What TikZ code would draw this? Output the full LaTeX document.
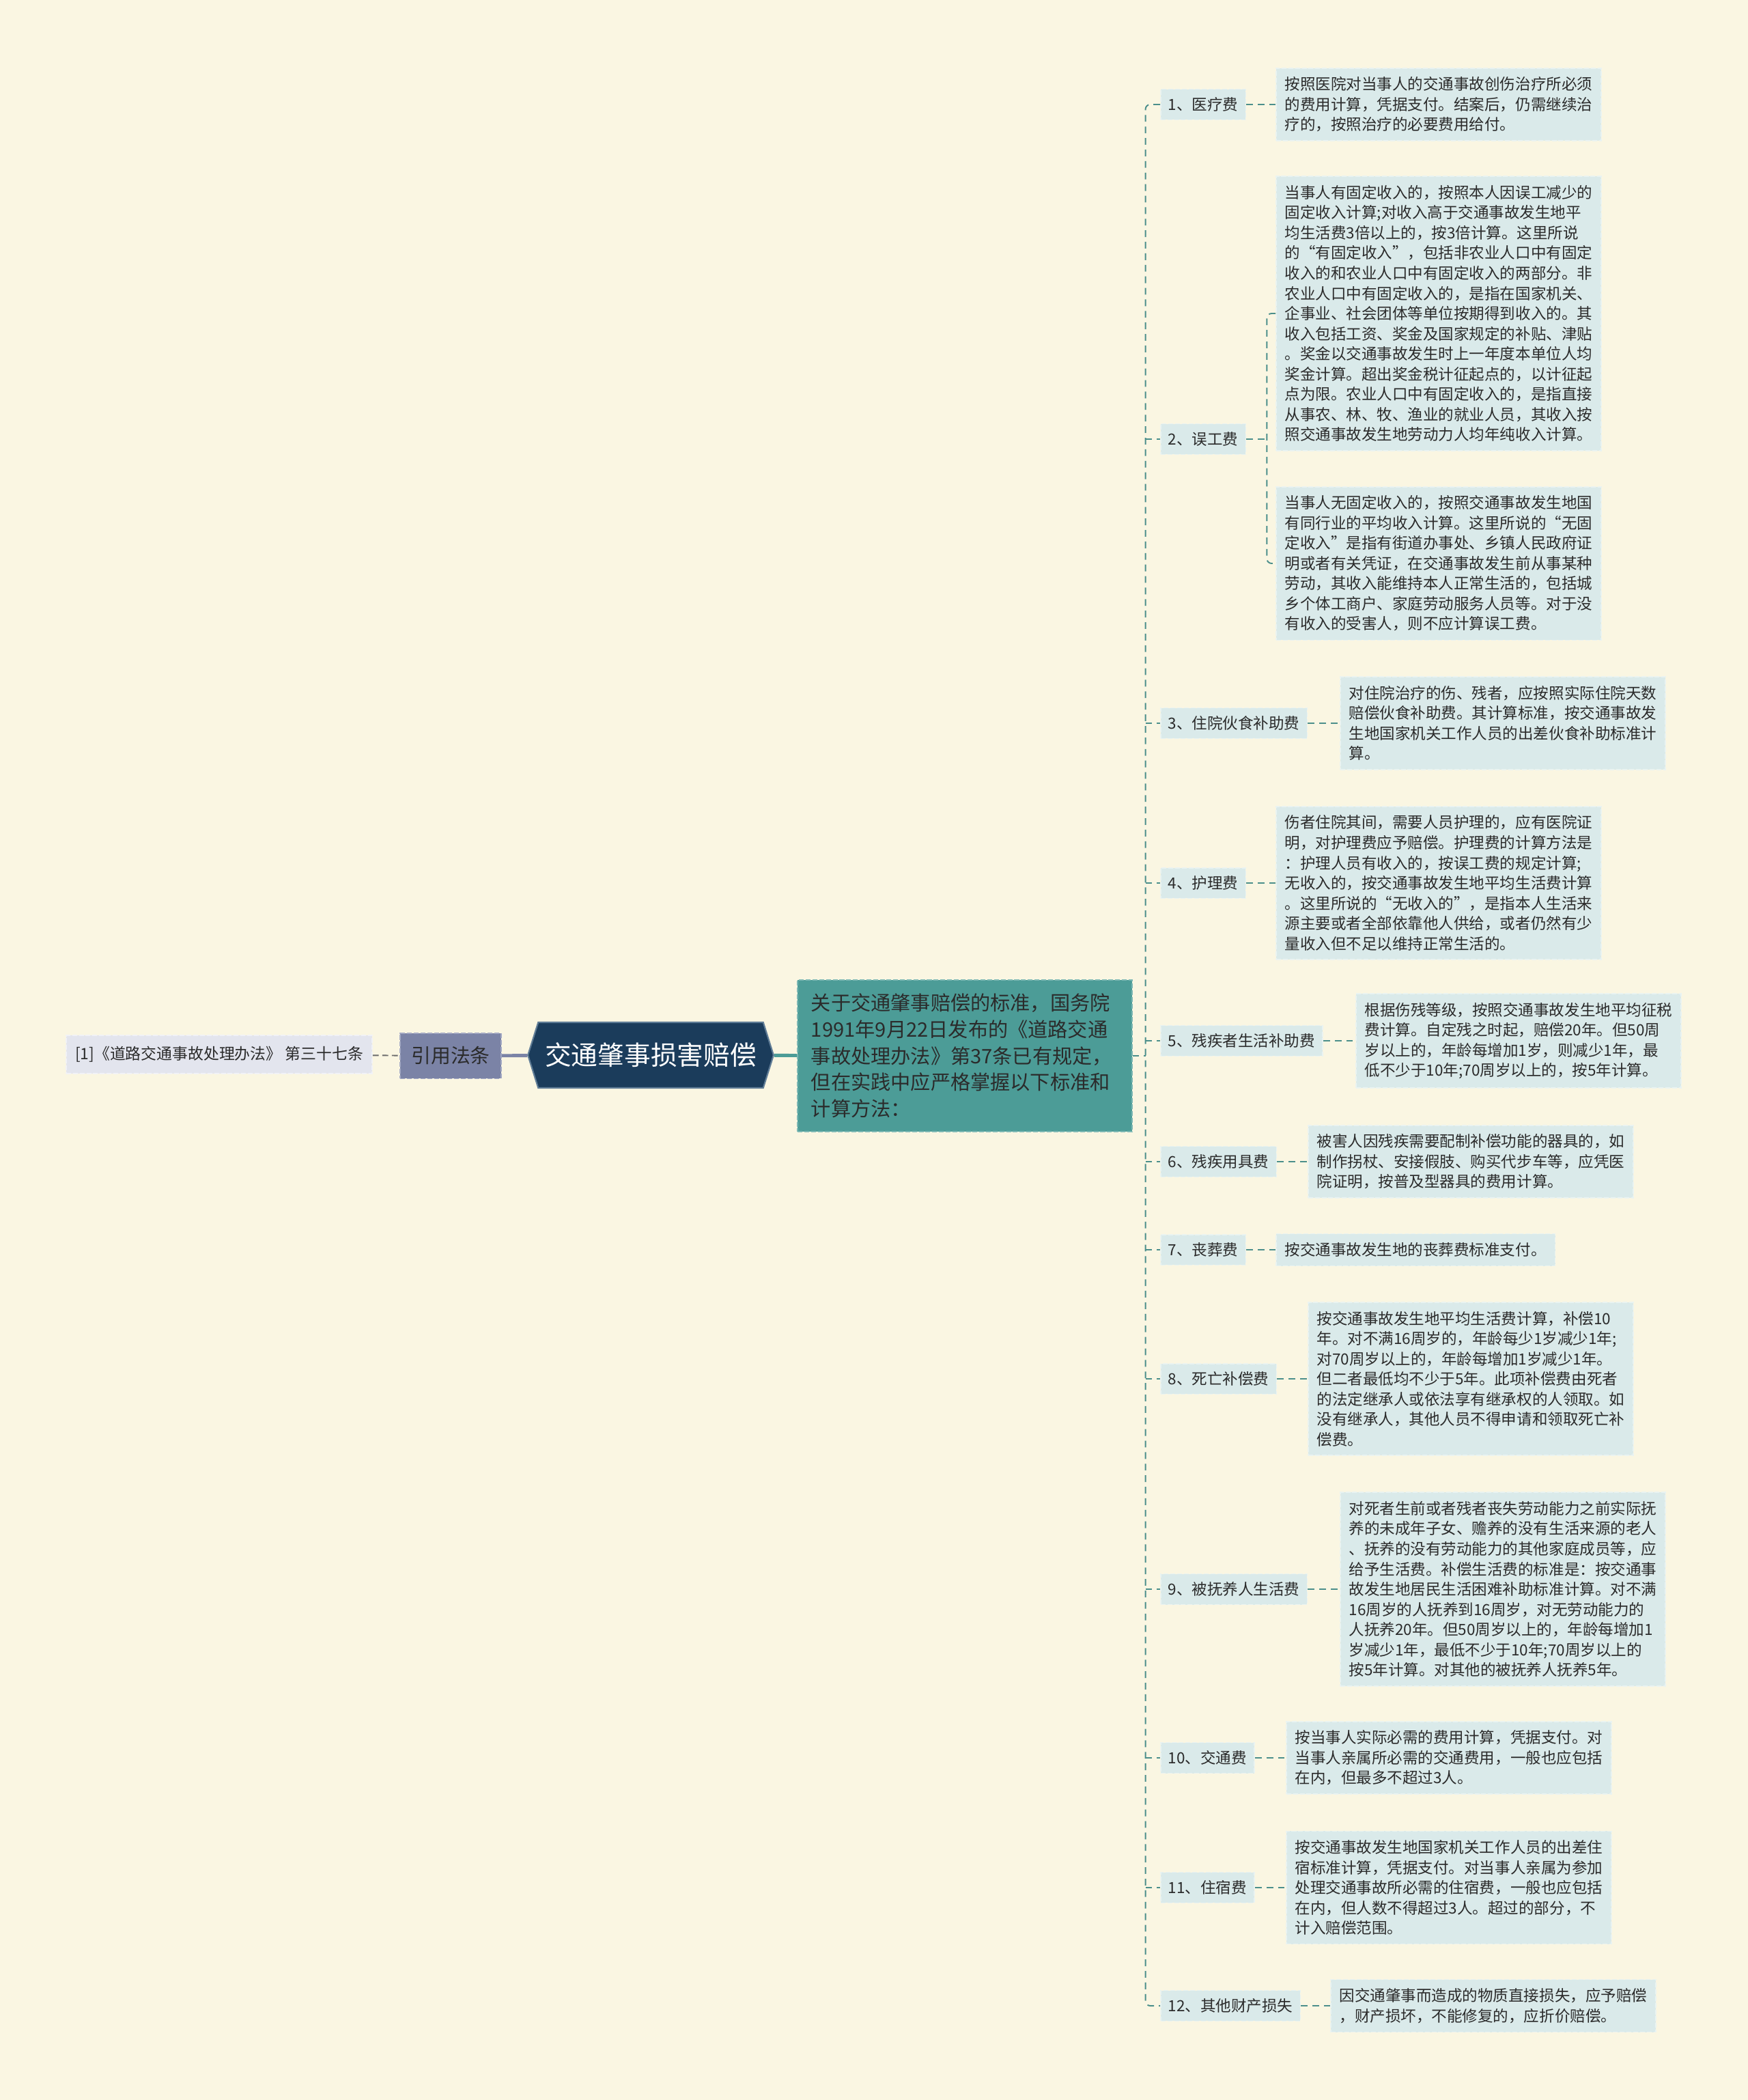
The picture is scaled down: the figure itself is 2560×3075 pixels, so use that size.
\documentclass[tikz,border=0pt]{standalone}
\usepackage{fontspec}
\newfontfamily\cjk{Noto Sans CJK SC}
\usepackage{tikz}
\usetikzlibrary{positioning, calc, shapes.symbols}

\definecolor{bgcream}{HTML}{FAF6E2}
\definecolor{leafbg}{HTML}{DAEAEA}
\definecolor{leafedge}{HTML}{EAF3F1}
\definecolor{linkteal}{HTML}{4B8F8B}
\definecolor{mainteal}{HTML}{4C9C97}
\definecolor{mainedge}{HTML}{7DB8B4}
\definecolor{rootnavy}{HTML}{1B3C5B}
\definecolor{rootedge}{HTML}{5F7C96}
\definecolor{citeslate}{HTML}{7B83A6}
\definecolor{citeedge}{HTML}{A4AAC4}
\definecolor{refbg}{HTML}{E3E5EE}
\definecolor{refedge}{HTML}{F1F2F6}
\definecolor{inkdark}{HTML}{2B2B2B}

\tikzset{
  leaf/.style={draw=leafedge, dash pattern=on 2pt off 0.8pt, line width=0.5pt,
    fill=leafbg, align=left, anchor=west, text=inkdark,
    inner xsep=0.13cm, inner ysep=0.13cm,
    font=\cjk\fontsize{6.4pt}{8.4pt}\selectfont},
  item/.style={leaf, inner xsep=0.11cm, inner ysep=0.12cm},
  conn/.style={draw=linkteal, line width=0.55pt, dash pattern=on 2.8pt off 2pt,
    rounded corners=2pt},
  refleaf/.style={leaf, fill=refbg, draw=refedge, inner xsep=0.13cm, inner ysep=0.16cm,
    anchor=center, font=\cjk\fontsize{6.5pt}{8pt}\selectfont},
  citebox/.style={fill=citeslate, draw=citeedge, dash pattern=on 2pt off 0.8pt,
    line width=0.5pt, text=inkdark, inner xsep=0.16cm, inner ysep=0.2cm,
    font=\cjk\fontsize{8.2pt}{10pt}\selectfont},
  rootnode/.style={signal, signal to=west and east, signal pointer angle=145,
    fill=rootnavy, draw=rootedge, line width=0.6pt, text=white,
    minimum width=3.53cm, minimum height=0.96cm, inner xsep=0.1cm,
    font=\cjk\fontsize{11pt}{13pt}\selectfont},
  mainbox/.style={fill=mainteal, draw=mainedge, dash pattern=on 2pt off 0.8pt,
    line width=0.5pt, text=inkdark, align=left, text width=4.5cm,
    inner xsep=0.195cm, inner ysep=0.2cm,
    font=\cjk\fontsize{8.3pt}{11pt}\selectfont},
}

\begin{document}
\begin{tikzpicture}[x=0.01cm, y=-0.01cm]

  % page background and frame
  \fill[bgcream] (0,0) rectangle (2560,3075);
  \useasboundingbox (0,0) rectangle (2560,3075);

  % left side: root, citation and summary
  \node[rootnode] (root) at (953,1545) {交通肇事损害赔偿};
  \node[citebox] (cite) at (660,1546) {引用法条};
  \node[refleaf] (ref) at (321,1544) {[1]《道路交通事故处理办法》 第三十七条};
  \node[mainbox] (main) at (1413,1546) {关于交通肇事赔偿的标准，国务院\\1991年9月22日发布的《道路交通\\事故处理办法》第37条已有规定，\\但在实践中应严格掌握以下标准和\\计算方法：};

  \draw[draw=inkdark!70, line width=0.55pt, dash pattern=on 2.5pt off 1.5pt] (ref) -- (cite);
  \draw[draw=citeslate, line width=1.4pt] (cite) -- (root);
  \draw[draw=mainteal, line width=1.4pt] (root) -- (main);

  % the twelve cost items
  \foreach \n/\y/\t in {1/153/1、医疗费, 2/643/2、误工费, 3/1059/3、住院伙食补助费,
      4/1293/4、护理费, 5/1524/5、残疾者生活补助费, 6/1701/6、残疾用具费,
      7/1830/7、丧葬费, 8/2019/8、死亡补偿费, 9/2327/9、被抚养人生活费,
      10/2574/10、交通费, 11/2764/11、住宿费, 12/2937/12、其他财产损失}
    \node[item] (item\n) at (1699,\y) {\t};

  % explanations
  \node[leaf] (leaf1) at (1868,153) {按照医院对当事人的交通事故创伤治疗所必须\\的费用计算，凭据支付。结案后，仍需继续治\\疗的，按照治疗的必要费用给付。};
  \node[leaf] (leaf2a) at (1868,459) {当事人有固定收入的，按照本人因误工减少的\\固定收入计算;对收入高于交通事故发生地平\\均生活费3倍以上的，按3倍计算。这里所说\\的“有固定收入”，包括非农业人口中有固定\\收入的和农业人口中有固定收入的两部分。非\\农业人口中有固定收入的，是指在国家机关、\\企事业、社会团体等单位按期得到收入的。其\\收入包括工资、奖金及国家规定的补贴、津贴\\。奖金以交通事故发生时上一年度本单位人均\\奖金计算。超出奖金税计征起点的，以计征起\\点为限。农业人口中有固定收入的，是指直接\\从事农、林、牧、渔业的就业人员，其收入按\\照交通事故发生地劳动力人均年纯收入计算。};
  \node[leaf] (leaf2b) at (1868,825) {当事人无固定收入的，按照交通事故发生地国\\有同行业的平均收入计算。这里所说的“无固\\定收入”是指有街道办事处、乡镇人民政府证\\明或者有关凭证，在交通事故发生前从事某种\\劳动，其收入能维持本人正常生活的，包括城\\乡个体工商户、家庭劳动服务人员等。对于没\\有收入的受害人，则不应计算误工费。};
  \node[leaf] (leaf3) at (1962,1059) {对住院治疗的伤、残者，应按照实际住院天数\\赔偿伙食补助费。其计算标准，按交通事故发\\生地国家机关工作人员的出差伙食补助标准计\\算。};
  \node[leaf] (leaf4) at (1868,1293) {伤者住院其间，需要人员护理的，应有医院证\\明，对护理费应予赔偿。护理费的计算方法是\\：护理人员有收入的，按误工费的规定计算;\\无收入的，按交通事故发生地平均生活费计算\\。这里所说的“无收入的”，是指本人生活来\\源主要或者全部依靠他人供给，或者仍然有少\\量收入但不足以维持正常生活的。};
  \node[leaf] (leaf5) at (1985,1524) {根据伤残等级，按照交通事故发生地平均征税\\费计算。自定残之时起，赔偿20年。但50周\\岁以上的，年龄每增加1岁，则减少1年，最\\低不少于10年;70周岁以上的，按5年计算。};
  \node[leaf] (leaf6) at (1915,1701) {被害人因残疾需要配制补偿功能的器具的，如\\制作拐杖、安接假肢、购买代步车等，应凭医\\院证明，按普及型器具的费用计算。};
  \node[leaf] (leaf7) at (1868,1830) {按交通事故发生地的丧葬费标准支付。};
  \node[leaf] (leaf8) at (1915,2019) {按交通事故发生地平均生活费计算，补偿10\\年。对不满16周岁的，年龄每少1岁减少1年;\\对70周岁以上的，年龄每增加1岁减少1年。\\但二者最低均不少于5年。此项补偿费由死者\\的法定继承人或依法享有继承权的人领取。如\\没有继承人，其他人员不得申请和领取死亡补\\偿费。};
  \node[leaf] (leaf9) at (1962,2327) {对死者生前或者残者丧失劳动能力之前实际抚\\养的未成年子女、赡养的没有生活来源的老人\\、抚养的没有劳动能力的其他家庭成员等，应\\给予生活费。补偿生活费的标准是：按交通事\\故发生地居民生活困难补助标准计算。对不满\\16周岁的人抚养到16周岁，对无劳动能力的\\人抚养20年。但50周岁以上的，年龄每增加1\\岁减少1年，最低不少于10年;70周岁以上的\\按5年计算。对其他的被抚养人抚养5年。};
  \node[leaf] (leaf10) at (1883,2574) {按当事人实际必需的费用计算，凭据支付。对\\当事人亲属所必需的交通费用，一般也应包括\\在内，但最多不超过3人。};
  \node[leaf] (leaf11) at (1883,2764) {按交通事故发生地国家机关工作人员的出差住\\宿标准计算，凭据支付。对当事人亲属为参加\\处理交通事故所必需的住宿费，一般也应包括\\在内，但人数不得超过3人。超过的部分，不\\计入赔偿范围。};
  \node[leaf] (leaf12) at (1948,2937) {因交通肇事而造成的物质直接损失，应予赔偿\\，财产损坏，不能修复的，应折价赔偿。};

  % spine from the summary box to the items
  \coordinate (hub) at ($(main.east)+(19,0)$);
  \draw[conn] (main.east) -- (hub);
  \draw[conn] (item1.west) -| (hub) |- (item12.west);
  \foreach \n in {2,...,11}
    \draw[conn] (hub |- item\n.west) -- (item\n.west);

  % items to explanations
  \foreach \n in {1,3,4,5,6,7,8,9,10,11,12}
    \draw[conn] (item\n) -- (leaf\n);
  \draw[conn] (item2.east) -- ++(30,0) coordinate (fork2);
  \draw[conn] (leaf2a.west) -| (fork2) |- (leaf2b.west);

\end{tikzpicture}
\end{document}
